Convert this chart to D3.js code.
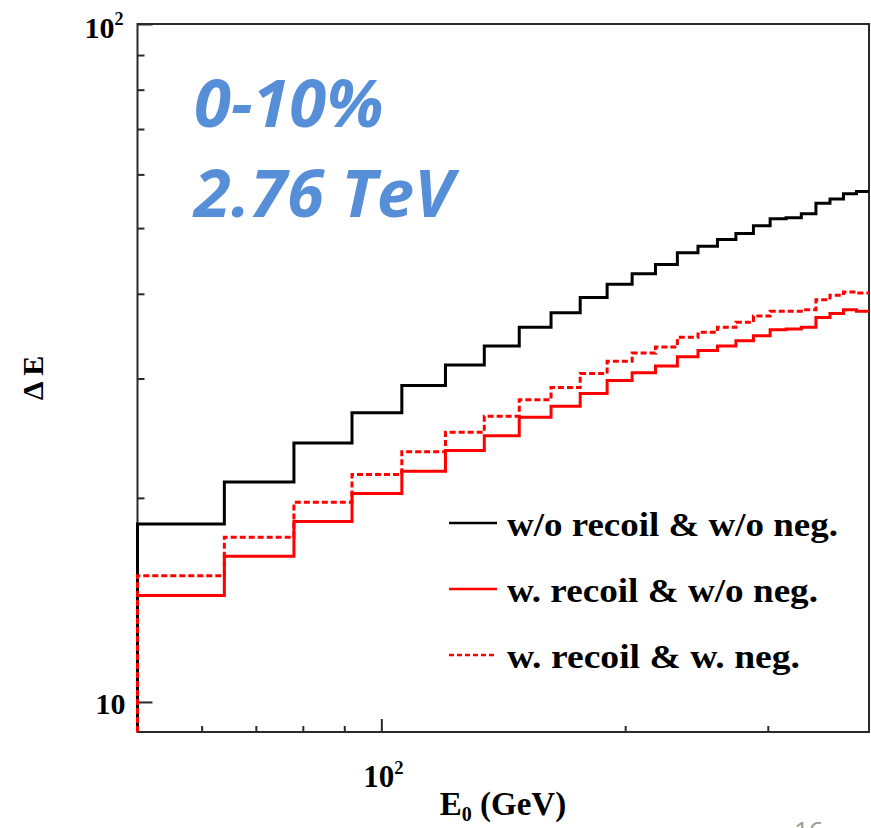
<!DOCTYPE html>
<html>
<head>
<meta charset="utf-8">
<script src="https://cdn.jsdelivr.net/npm/d3@7/dist/d3.min.js"></script>
<style>
  html, body { margin: 0; padding: 0; background: #fff; }
  svg { display: block; }
  .serif { font-family: "Liberation Serif", "Times New Roman", serif; font-weight: bold; fill: #000; }
</style>
</head>
<body>
<svg id="chart" width="871" height="828"></svg>
<script>
// Bin edges in E0 (GeV): 25 bins of 14 GeV from 50 to 400
const binEdges = [50, 64, 78, 92, 106, 120, 134, 148, 162, 176, 190, 204, 218, 232,
                  246, 260, 274, 288, 302, 316, 330, 344, 358, 372, 386, 400];

// Energy loss per bin for each configuration
const noRecoilNoNeg = [18.3, 21.1, 24.1, 26.7, 29.3, 31.4, 33.5, 35.7, 37.5, 39.5, 41.3, 42.8, 44.2,
                       46.0, 47.0, 48.1, 49.1, 50.4, 51.6, 51.8, 52.5, 54.4, 55.2, 56.2, 56.6];
const recoilNoNeg   = [14.35, 16.4, 18.45, 20.3, 21.9, 23.5, 24.7, 26.3, 27.3, 28.5, 29.8, 30.6, 31.3,
                       32.3, 33.0, 33.5, 34.1, 34.7, 35.4, 35.5, 35.7, 36.9, 37.4, 37.9, 37.7];
const recoilNeg     = [15.35, 17.5, 19.7, 21.65, 23.4, 25.0, 26.4, 27.9, 29.1, 30.5, 31.8, 32.7, 33.4,
                       34.5, 35.1, 35.7, 36.3, 37.1, 37.7, 37.7, 37.9, 39.2, 39.8, 40.25, 40.1];

const seriesNames = ["w/o recoil & w/o neg.", "w. recoil & w/o neg.", "w. recoil & w. neg."];

// Axis ticks
const xMinorTicks = [60, 70, 80, 90, 200, 300];
const xMajorTicks = [100];
const yMinorTicks = [20, 30, 40, 50, 60, 70, 80, 90];
const yMajorTicks = [10, 100];

const svg = d3.select("#chart");

const frame = { left: 137.5, right: 869, top: 24, bottom: 732 };

const x = d3.scaleLog().domain([50, 400]).range([frame.left, frame.right]);
const y = d3.scaleLog().domain([9.03, 100]).range([frame.bottom, frame.top]);

// Frame
svg.append("rect")
  .attr("x", frame.left).attr("y", frame.top)
  .attr("width", frame.right - frame.left).attr("height", frame.bottom - frame.top)
  .attr("fill", "none").attr("stroke", "#2a2a2a").attr("stroke-width", 2);

// Axes: ticks pointing inward
function styleAxis(g) {
  g.select(".domain").remove();
  g.selectAll(".tick line").attr("stroke", "#2a2a2a").attr("stroke-width", 2);
  g.selectAll(".tick text").remove();
}
svg.append("g").attr("transform", `translate(0,${frame.bottom})`)
  .call(d3.axisBottom(x).tickValues(xMinorTicks).tickSize(-6)).call(styleAxis);
svg.append("g").attr("transform", `translate(0,${frame.bottom})`)
  .call(d3.axisBottom(x).tickValues(xMajorTicks).tickSize(-13)).call(styleAxis);
svg.append("g").attr("transform", `translate(${frame.left},0)`)
  .call(d3.axisLeft(y).tickValues(yMinorTicks).tickSize(-7)).call(styleAxis);
svg.append("g").attr("transform", `translate(${frame.left},0)`)
  .call(d3.axisLeft(y).tickValues(yMajorTicks).tickSize(-15)).call(styleAxis);

// Tick labels
function powerLabel(px, py, base, exp, size, anchorRight) {
  const t = svg.append("text").attr("class", "serif")
    .attr("x", px).attr("y", py).attr("font-size", size)
    .attr("text-anchor", anchorRight ? "end" : "middle");
  t.append("tspan").text(base);
  t.append("tspan").attr("font-size", size * 0.6).attr("dy", -size * 0.42).text(exp);
  return t;
}
powerLabel(x(100) + 2, 787, "10", "2", 31, false);
powerLabel(frame.left - 14, y(100) + 14, "10", "2", 30, true);
svg.append("text").attr("class", "serif")
  .attr("x", frame.left - 12).attr("y", y(10) + 12)
  .attr("font-size", 30).attr("text-anchor", "end").text("10");

// Axis titles
const xt = svg.append("text").attr("class", "serif")
  .attr("x", 503).attr("y", 815).attr("font-size", 33).attr("text-anchor", "middle");
xt.append("tspan").text("E");
xt.append("tspan").attr("font-size", 20).attr("dy", 6).text("0");
xt.append("tspan").attr("dy", -6).text(" (GeV)");

svg.append("text").attr("class", "serif")
  .attr("transform", "translate(43,378) rotate(-90)")
  .attr("font-size", 30).attr("text-anchor", "middle").text("\u0394 E");

// Histogram outline: rises from the bottom of the frame at the first edge
function histPoints(values) {
  const pts = [[x(binEdges[0]), y.range()[0]]];
  values.forEach((v, i) => {
    pts.push([x(binEdges[i]), y(v)]);
    pts.push([x(binEdges[i + 1]), y(v)]);
  });
  return pts;
}
const line = d3.line();

const styles = [
  { data: recoilNoNeg,   color: "#ff0000", dash: null },
  { data: noRecoilNoNeg, color: "#000000", dash: null },
  { data: recoilNeg,     color: "#ff0000", dash: "6,3" }
];
styles.forEach(s => {
  svg.append("path")
    .attr("d", line(histPoints(s.data)))
    .attr("fill", "none")
    .attr("stroke", s.color)
    .attr("stroke-width", 3)
    .attr("stroke-linejoin", "miter")
    .attr("stroke-dasharray", s.dash);
});

// Legend
const legendItems = [
  { name: seriesNames[0], color: "#000000", dash: null,  width: 331 },
  { name: seriesNames[1], color: "#ff0000", dash: null,  width: 311 },
  { name: seriesNames[2], color: "#ff0000", dash: "5,3", width: 293 }
];
legendItems.forEach((d, i) => {
  const ly = 523 + i * 66;
  svg.append("line")
    .attr("x1", 449).attr("x2", 497).attr("y1", ly).attr("y2", ly)
    .attr("stroke", d.color).attr("stroke-width", 2.5)
    .attr("stroke-dasharray", d.dash);
  svg.append("text").attr("class", "serif")
    .attr("x", 507).attr("y", ly + 13).attr("font-size", 33)
    .attr("textLength", d.width).attr("lengthAdjust", "spacingAndGlyphs")
    .text(d.name);
});

// Overlay label
const note = svg.append("g")
  .attr("font-family", "'Open Sans', 'Noto Sans', sans-serif")
  .attr("font-weight", "bold").attr("font-style", "italic")
  .attr("font-size", 67).attr("fill", "#568fd8");
note.append("text").attr("x", 194).attr("y", 127).text("0-10%");
note.append("text").attr("x", 194).attr("y", 217).text("2.76 TeV");

// Slide page number, cut off at the bottom edge
svg.append("text")
  .attr("x", 794).attr("y", 840)
  .attr("font-family", "'Open Sans', sans-serif")
  .attr("font-size", 26).attr("fill", "#9a9a9a").text("16");
</script>
</body>
</html>
